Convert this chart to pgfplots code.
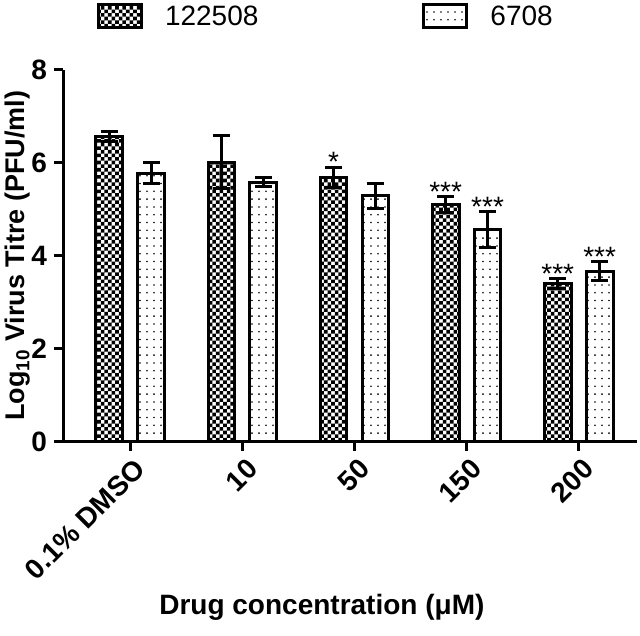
\documentclass[border=0pt]{standalone}
\usepackage{fontspec}
\setmainfont{Liberation Sans}
\usepackage{pgfplots}
\usepackage{pgfplotstable}
\pgfplotsset{compat=1.18}
\usetikzlibrary{patterns}

\pgfdeclarepatternformonly{checks}{\pgfqpoint{-0.1pt}{-0.1pt}}{\pgfqpoint{3.7pt}{3.7pt}}{\pgfqpoint{3.6pt}{3.6pt}}{%
  \pgfpathrectangle{\pgfqpoint{0pt}{0pt}}{\pgfqpoint{1.8pt}{1.8pt}}%
  \pgfpathrectangle{\pgfqpoint{1.8pt}{1.8pt}}{\pgfqpoint{1.8pt}{1.8pt}}%
  \pgfusepath{fill}}
\pgfdeclarepatternformonly{sparsedots}{\pgfqpoint{-0.5pt}{-0.5pt}}{\pgfqpoint{0.5pt}{0.5pt}}{\pgfqpoint{3.5pt}{3.9pt}}{%
  \pgfpathcircle{\pgfqpoint{0pt}{0pt}}{0.45pt}\pgfusepath{fill}}

% xa, xb: bar centres of the two strains within each concentration group
\pgfplotstableread{
x xa     xb    a    aerr b    berr
0 -0.187 0.187 6.57 0.10 5.78 0.22
1 0.813  1.187 6.02 0.57 5.59 0.10
2 1.813  2.187 5.69 0.22 5.29 0.27
3 2.813  3.187 5.11 0.17 4.57 0.39
4 3.813  4.187 3.41 0.11 3.67 0.20
}\virus

\pgfplotstableread{
x     y    label
1.813 5.91 *
2.813 5.28 ***
3.187 4.96 ***
3.813 3.52 ***
4.187 3.87 ***
}\stars

\begin{document}
\begin{tikzpicture}
\begin{axis}[
  scale only axis, width=287pt, height=186pt,
  xmin=-0.6, xmax=4.52, ymin=0, ymax=8,
  axis lines*=left,
  axis line style={line width=1.5pt, -},
  xtick={0,1,2,3,4},
  xticklabels={0.1\% DMSO,10,50,150,200},
  ytick={0,2,4,6,8},
  tick align=outside, major tick length=4.5pt,
  every tick/.style={black, line width=1.5pt},
  /pgf/number format/assume math mode=true,
  ticklabel style={font=\bfseries\fontsize{14}{16}\selectfont},
  xticklabel style={rotate=45, anchor=north east, inner sep=1pt, yshift=-2pt},
  ylabel={Log\textsubscript{10} Virus Titre (PFU/ml)},
  ylabel style={font=\bfseries\fontsize{13.5}{16}\selectfont, at={(axis description cs:-0.0784,0.5)}, anchor=center},
  xlabel={Drug concentration (μM)},
  xlabel style={font=\bfseries\fontsize{14}{16}\selectfont, at={(axis description cs:0.451,-0.4435)}, anchor=center},
  legend columns=2,
  legend image code/.code={\draw[#1, line width=1.5pt] (0pt,-5pt) rectangle (21.5pt,6.5pt);},
  legend style={at={(axis description cs:0.0592,1.18)}, anchor=north west, draw=none, fill=none,
    inner sep=0pt, outer sep=0pt, font=\fontsize{14}{16}\selectfont,
    nodes={inner sep=0pt},
    /tikz/every odd column/.append style={column sep=11pt},
    /tikz/every even column/.append style={column sep=82pt}},
]
\addplot[ybar, bar width=13.4pt, bar shift=0pt, draw=black, line width=1.5pt, pattern=checks, pattern color=black,
  error bars/.cd, y dir=both, y explicit,
  error bar style={line width=1.5pt, black},
  error mark options={rotate=90, line width=1.5pt, mark size=4.25pt, black}]
  table[x=xa, y=a, y error=aerr]{\virus};
\addlegendentry{122508}
\addplot[ybar, bar width=13.4pt, bar shift=0pt, draw=black, line width=1.5pt, pattern=sparsedots, pattern color=black,
  error bars/.cd, y dir=both, y explicit,
  error bar style={line width=1.5pt, black},
  error mark options={rotate=90, line width=1.5pt, mark size=4.25pt, black}]
  table[x=xb, y=b, y error=berr]{\virus};
\addlegendentry{6708}
\addplot[forget plot, draw=none, mark=none, nodes near coords, point meta=explicit symbolic,
  nodes near coords style={anchor=base, yshift=-2.4pt, inner sep=0pt, text=black, font=\fontsize{14}{16}\selectfont}]
  table[x=x, y=y, meta=label]{\stars};
\coordinate (bbll) at (axis description cs:-0.1098,-0.5215);
\coordinate (bbur) at (axis description cs:1.0052,1.188);
\end{axis}
\pgfresetboundingbox
\useasboundingbox (bbll) rectangle (bbur);
\end{tikzpicture}
\end{document}
